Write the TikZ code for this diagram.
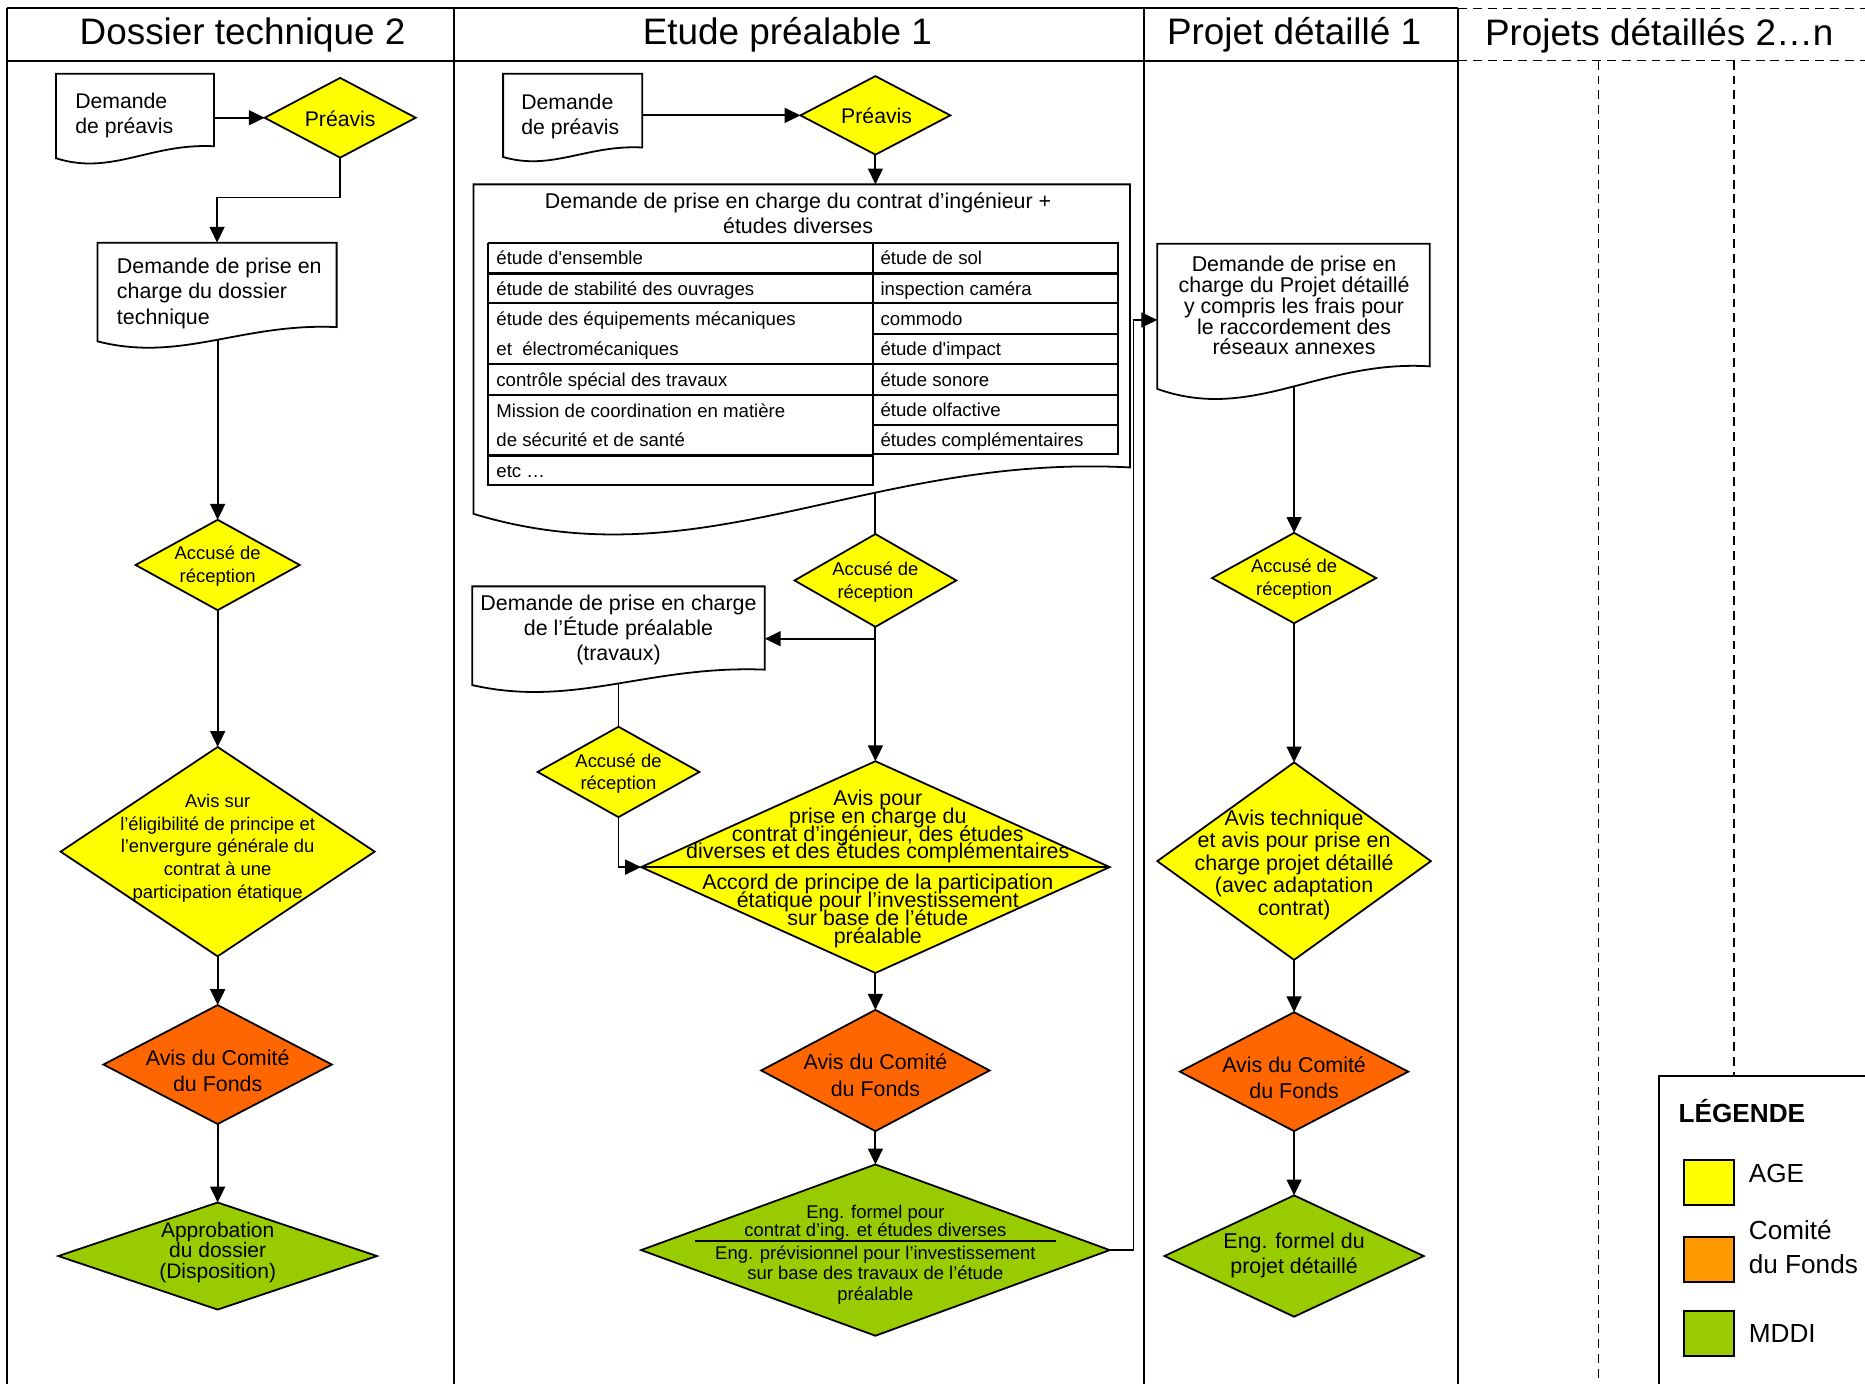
\documentclass[tikz,border=0pt]{standalone}
\usepackage{fontspec}
\setmainfont{Liberation Sans}
\usetikzlibrary{shapes.geometric,arrows.meta,calc,backgrounds}
\definecolor{ageY}{HTML}{FFFF00}
\definecolor{comO}{HTML}{FF6600}
\definecolor{legO}{HTML}{FF9900}
\definecolor{mddiG}{HTML}{99CC00}
\newcommand\fsz[2]{\fontsize{#1}{#2}\selectfont\lineskiplimit=-30pt\lineskip=0pt}
\newcommand\docshape[6]{%
  \pgfmathsetmacro\dw{#4-#2}\pgfmathsetmacro\da{#5-#6}%
  \filldraw[docline] (#2,#3) -- (#4,#3) -- (#4,#6)
    .. controls ({#2+0.6*\dw},{#6-0.3*\da}) and ({#2+0.35*\dw},{#5+1.5*\da}) .. (#2,#5) -- cycle;
  \node[inner sep=0pt,outer sep=0pt,minimum width={(#4-#2)*0.6pt},minimum height={(#6-#3)*0.6pt}] (#1) at ({(#2+#4)/2},{(#3+#6)/2}) {};}
\begin{document}
\begin{tikzpicture}[x=0.6pt,y=-0.6pt,
  frameline/.style={line width=1pt},
  dashline/.style={line width=0.8pt,dash pattern=on 4.5pt off 3pt},
  docline/.style={line width=0.9pt,fill=white},
  conn/.style={line width=0.95pt},
  arr/.style={conn,-{Triangle[length=8pt,width=7.5pt]}},
  dia/.style n args={3}{diamond,draw,line width=0.9pt,inner sep=0pt,outer sep=0pt,fill=#1,minimum width={#2*1.2pt},minimum height={#3*1.2pt}},
  txt/.style={inner sep=0pt,align=center},
  ltxt/.style={inner sep=0pt,align=left,anchor=west},
  hdr/.style={inner sep=0pt,font=\fsz{18.6}{22}},
  tline/.style={line width=1.1pt},
  cell/.style={inner sep=0pt,anchor=west,text height=7pt,text depth=2pt,font=\fsz{9.4}{11}},
  legsq/.style={draw,line width=0.9pt,minimum width=25.2pt,minimum height=22.8pt,inner sep=0pt},
]
\useasboundingbox (0,0) rectangle (1568,1163);
\clip (0,0) rectangle (1568,1163);
% ---------------- frame
\draw[frameline] (6,7) -- (1226,7);
\draw[frameline] (6,51) -- (1226,51);
\foreach \xx in {6,382,962,1226} \draw[frameline] (\xx,7) -- (\xx,1170);
\draw[dashline] (1226,7) -- (1575,7);
\draw[dashline] (1226,51) -- (1575,51);
\draw[dashline] (1344,51) -- (1344,1170);
\draw[dashline] (1458,51) -- (1458,905);
\node[hdr] (h1) at (204,29) {Dossier technique 2};
\node[hdr] (h2) at (662,29) {Etude préalable 1};
\node[hdr] (h3) at (1088,29) {Projet détaillé 1};
\node[hdr] (h4) at (1395,30) {Projets détaillés 2…n};
% ---------------- left column
\docshape{ldoca}{47}{62}{180}{133}{123}
\node[ltxt,font=\fsz{10.7}{12.6}] (ldocat) at (63,97.5) {Demande\\de préavis};
\node[dia={ageY}{63.5}{33.5}] (lprev) at (286,99) {};
\node[txt,font=\fsz{10.7}{12.6}] (lprevt) at (286,100) {Préavis};
\docshape{ldocb}{82}{204}{283}{287}{275}
\node[ltxt,font=\fsz{10.8}{12.9}] (ldocbt) at (98,246.5) {Demande de prise en\\charge du dossier\\technique};
\node[dia={ageY}{69}{38}] (lacc) at (183,475) {};
\node[txt,font=\fsz{9.3}{11.4}] (lacct) at (183,476) {Accusé de\\réception};
\node[dia={ageY}{132}{88}] (lavis) at (183,716) {};
\node[txt,font=\fsz{9.3}{11.4}] (lavist) at (183,713) {Avis sur\\l’éligibilité de principe et\\l’envergure générale du\\contrat à une\\participation étatique};
\node[dia={comO}{96}{50}] (lorg) at (183,895) {};
\node[txt,font=\fsz{10.8}{13.2}] (lorgt) at (183,900) {Avis du Comité\\du Fonds};
\node[dia={mddiG}{134}{45}] (lgrn) at (183,1056) {};
\node[txt,font=\fsz{10.6}{10.2}] (lgrnt) at (183,1053) {Approbation\\du dossier\\(Disposition)};
% ---------------- middle column
\docshape{mdoca}{423}{62}{540}{132}{124}
\node[ltxt,font=\fsz{10.7}{12.6}] (mdocat) at (438,98) {Demande\\de préavis};
\node[dia={ageY}{63}{33}] (mprev) at (736,97) {};
\node[txt,font=\fsz{10.7}{12.6}] (mprevt) at (737,97) {Préavis};
\docshape{mbig}{398}{155}{950}{432}{393}
\node[txt,font=\fsz{10.8}{12.6}] (mbigt) at (671,179.5) {Demande de prise en charge du contrat d’ingénieur +\\études diverses};
% table
\draw[tline] (410,204) -- (410,408) -- (734,408) -- (734,204);
\draw[tline] (410,204) -- (940,204) -- (940,382) -- (734,382);
\foreach \yy in {230,255,306,332,383} \draw[tline] (410,\yy) -- (734,\yy);
\foreach \yy in {230,255,281,306,332,357} \draw[tline] (734,\yy) -- (940,\yy);
\node[cell] (c1) at (417,218.5) {étude d\textquotesingle ensemble};
\node[cell] (c2) at (417,244) {étude de stabilité des ouvrages};
\node[cell] (c3) at (417,269.5) {étude des équipements mécaniques};
\node[cell] (c4) at (417,295) {et~ électromécaniques};
\node[cell] (c5) at (417,320.5) {contrôle spécial des travaux};
\node[cell] (c6) at (417,346.5) {Mission de coordination en matière};
\node[cell] (c7) at (417,371.5) {de sécurité et de santé};
\node[cell] (c8) at (417,397) {etc …};
\node[cell] (d1) at (740,218.5) {étude de sol};
\node[cell] (d2) at (740,244) {inspection caméra};
\node[cell] (d3) at (740,269.5) {commodo};
\node[cell] (d4) at (740,295) {étude d\textquotesingle impact};
\node[cell] (d5) at (740,320.5) {étude sonore};
\node[cell] (d6) at (740,346) {étude olfactive};
\node[cell] (d7) at (740,371) {études complémentaires};
\node[dia={ageY}{68}{39}] (macc) at (736,488) {};
\node[txt,font=\fsz{9.3}{11.4}] (macct) at (736,489.5) {Accusé de\\réception};
\docshape{mtrav}{397}{493}{643}{576}{563}
\node[txt,font=\fsz{10.8}{12.6}] (mtravt) at (520,530) {Demande de prise en charge\\de l’Étude préalable\\(travaux)};
\node[dia={ageY}{68}{38}] (macc2) at (520,649) {};
\node[txt,font=\fsz{9.3}{11.4}] (macc2t) at (520,650.5) {Accusé de\\réception};
\node[dia={ageY}{197}{89}] (mavis) at (736,729) {};
\draw[conn] (mavis.west) -- (mavis.east);
\node[txt,font=\fsz{10.8}{9}] (mavisu) at (738,695) {Avis pour\\prise en charge du\\contrat d’ingénieur, des études\\diverses et des études complémentaires};
\node[txt,font=\fsz{10.8}{9}] (mavisl) at (738,766) {Accord de principe de la participation\\étatique pour l’investissement\\sur base de l’étude\\préalable};
\node[dia={comO}{96}{51}] (morg) at (736,900) {};
\node[txt,font=\fsz{10.8}{13.2}] (morgt) at (736,904) {Avis du Comité\\du Fonds};
\node[dia={mddiG}{197}{72}] (mgrn) at (736,1051) {};
\draw[conn] ($(mgrn.center)+(-152,-8)$) -- ++(304,0);
\node[txt,font=\fsz{9.3}{9}] (mgrnu) at (736,1028) {Eng. formel pour\\contrat d’ing. et études diverses};
\node[txt,font=\fsz{9.3}{10.5}] (mgrnl) at (736,1072) {Eng. prévisionnel pour l’investissement\\sur base des travaux de l’étude\\préalable};
% ---------------- right column
\docshape{rdoc}{973}{205}{1202}{327}{308}
\node[txt,font=\fsz{10.8}{10.5}] (rdoct) at (1088,257) {Demande de prise en\\charge du Projet détaillé\\y compris les frais pour\\le raccordement des\\réseaux annexes};
\node[dia={ageY}{69}{38}] (racc) at (1088,486) {};
\node[txt,font=\fsz{9.3}{11.4}] (racct) at (1088,487) {Accusé de\\réception};
\node[dia={ageY}{115}{83}] (ravis) at (1088,724) {};
\node[txt,font=\fsz{10.8}{11.4}] (ravist) at (1088,727) {Avis technique\\et avis pour prise en\\charge projet détaillé\\(avec adaptation\\contrat)};
\node[dia={comO}{96}{50}] (rorg) at (1088,901) {};
\node[txt,font=\fsz{10.8}{13.2}] (rorgt) at (1088,906) {Avis du Comité\\du Fonds};
\node[dia={mddiG}{109}{51}] (rgrn) at (1088,1056) {};
\node[txt,font=\fsz{10.8}{12.6}] (rgrnt) at (1088,1055.5) {Eng. formel du\\projet détaillé};
% ---------------- legend
\draw[frameline,fill=white] (1395,905) rectangle (1590,1190);
\node[inner sep=0pt,anchor=west,font=\fsz{13.2}{16}\bfseries] (legt) at (1411,934) {LÉGENDE};
\node[legsq,fill=ageY] (lg1) at (1437,994) {};
\node[legsq,fill=legO] (lg2) at (1437,1059) {};
\node[legsq,fill=mddiG] (lg3) at (1437,1121) {};
\node[ltxt,font=\fsz{13.2}{17.4}] (lg1t) at (1470,987) {AGE};
\node[ltxt,font=\fsz{13.2}{17.4}] (lg2t) at (1470,1048.5) {Comité\\du Fonds};
\node[ltxt,font=\fsz{13.2}{17.4}] (lg3t) at (1470,1121) {MDDI};
% ---------------- connectors
\begin{scope}[on background layer]
\draw[arr] (ldoca.east |- lprev.west) -- (lprev.west);
\draw[arr] (lprev.south) |- ($(ldocb.north)+(0,-38)$) -- (ldocb.north);
\draw[arr] (lacc.north |- ldocb.south) -- (lacc.north);
\draw[arr] (lacc.south) -- (lavis.north);
\draw[arr] (lavis.south) -- (lorg.north);
\draw[arr] (lorg.south) -- (lgrn.north);
\draw[arr] (mdoca.east |- mprev.west) -- (mprev.west);
\draw[arr] (mprev.south) -- (mprev.south |- mbig.north);
\draw[conn] (macc.north |- mbig.south) -- (macc.north);
\draw[arr] (macc.south) -- (mavis.north);
\coordinate (mbr) at ($(macc.south)+(0,10)$);
\draw[arr] (mbr) -- (mbr -| mtrav.east);
\draw[conn] (macc2.north |- mtrav.south) -- (macc2.north);
\draw[arr] (macc2.south) |- (mavis.west);
\draw[arr] (mavis.south) -- (morg.north);
\draw[arr] (morg.south) -- (mgrn.north);
\coordinate (mjog) at (953,269);
\draw[arr] (mgrn.east) -| (mjog) -- (mjog -| rdoc.west);
\draw[arr] (racc.north |- rdoc.south) -- (racc.north);
\draw[arr] (racc.south) -- (ravis.north);
\draw[arr] (ravis.south) -- (rorg.north);
\draw[arr] (rorg.south) -- (rgrn.north);
\end{scope}
\end{tikzpicture}
\end{document}
